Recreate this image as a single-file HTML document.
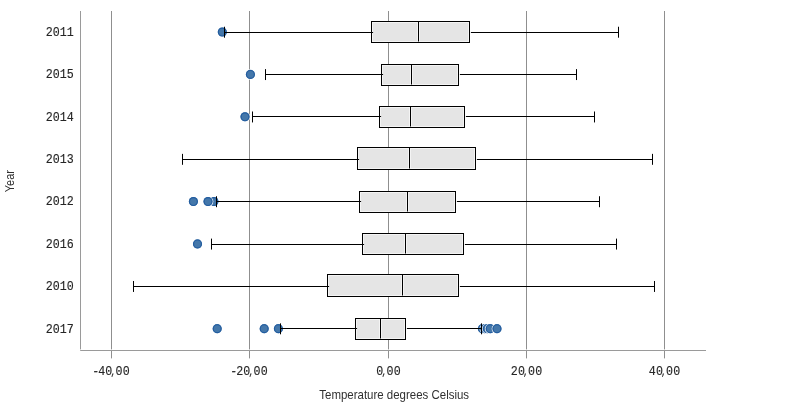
<!DOCTYPE html>
<html lang="en">
<head>
<meta charset="utf-8">
<title>Box plot - Temperature degrees Celsius by Year</title>
<style>
html,body{margin:0;padding:0;background:#ffffff;}
body{width:800px;height:407px;overflow:hidden;}
svg{display:block;will-change:transform;}
.num{font-family:"Liberation Mono","DejaVu Sans Mono",monospace;font-size:13.7px;fill:#262626;stroke:#262626;stroke-width:0.15px;}
.ttl{font-family:"Liberation Sans",Arial,sans-serif;font-size:12.6px;fill:#303030;}
.cm{font-size:10.5px;}
.grid{stroke:#8f8f8f;stroke-width:1;}
.axis{stroke:#9a9a9a;stroke-width:1;}
.box{fill:#e5e5e5;stroke:#000000;stroke-width:1;}
.halo{fill:none;stroke:#f4f4f4;stroke-width:1;}
.wh{stroke:#000000;stroke-width:1;fill:none;}
.ring{fill:#ffffff;fill-opacity:0.9;}
.dot{fill:#4477aa;}
.rim{fill:none;stroke:#1f5a9f;stroke-width:1.15;stroke-opacity:0.9;}
</style>
</head>
<body>
<svg width="800" height="407" viewBox="0 0 800 407">
<rect x="0" y="0" width="800" height="407" fill="#ffffff"/>

<g class="grid">
<line x1="111.5" y1="11.0" x2="111.5" y2="349.4"/><line x1="111.5" y1="351" x2="111.5" y2="358.4"/>
<line x1="249.5" y1="11.0" x2="249.5" y2="349.4"/><line x1="249.5" y1="351" x2="249.5" y2="358.4"/>
<line x1="388.5" y1="11.0" x2="388.5" y2="349.4"/><line x1="388.5" y1="351" x2="388.5" y2="358.4"/>
<line x1="526.5" y1="11.0" x2="526.5" y2="349.4"/><line x1="526.5" y1="351" x2="526.5" y2="358.4"/>
<line x1="664.5" y1="11.0" x2="664.5" y2="349.4"/><line x1="664.5" y1="351" x2="664.5" y2="358.4"/>
</g>
<g class="axis">
<line x1="80.5" y1="11.0" x2="80.5" y2="349.4"/>
<line x1="80.2" y1="350.5" x2="706" y2="350.5"/>
</g>
<g><!-- 2011 -->
<circle class="ring" cx="222.3" cy="32.04" r="5.35"/><circle class="dot" cx="222.3" cy="32.04" r="4.55"/><circle class="rim" cx="222.3" cy="32.04" r="3.95"/>
<rect class="box" x="371.5" y="21.5" width="98.0" height="21.0"/>
<rect class="halo" x="372.5" y="22.5" width="96.0" height="19.0"/>
<path class="halo" d="M417.5 22.5V41.5M419.5 22.5V41.5"/>
<line class="wh" x1="418.5" y1="21.5" x2="418.5" y2="41.5"/>
<path class="wh" d="M224.5 26.74V37.69M224.5 32.5H373.1M470.9 32.5H618.5M618.5 26.74V37.69"/>
<text class="num" transform="translate(73.7 35.89) scale(0.85 1)" text-anchor="end">2011</text>
</g>
<g><!-- 2015 -->
<circle class="ring" cx="250.4" cy="74.41" r="5.35"/><circle class="dot" cx="250.4" cy="74.41" r="4.55"/><circle class="rim" cx="250.4" cy="74.41" r="3.95"/>
<rect class="box" x="381.5" y="64.5" width="77.0" height="21.0"/>
<rect class="halo" x="382.5" y="65.5" width="75.0" height="19.0"/>
<path class="halo" d="M410.5 65.5V84.5M412.5 65.5V84.5"/>
<line class="wh" x1="411.5" y1="64.5" x2="411.5" y2="84.5"/>
<path class="wh" d="M265.5 69.11V80.06M265.5 74.5H383.1M459.9 74.5H576.5M576.5 69.11V80.06"/>
<text class="num" transform="translate(73.7 78.26) scale(0.85 1)" text-anchor="end">2015</text>
</g>
<g><!-- 2014 -->
<circle class="ring" cx="245.0" cy="116.79" r="5.35"/><circle class="dot" cx="245.0" cy="116.79" r="4.55"/><circle class="rim" cx="245.0" cy="116.79" r="3.95"/>
<rect class="box" x="379.5" y="106.5" width="85.0" height="21.0"/>
<rect class="halo" x="380.5" y="107.5" width="83.0" height="19.0"/>
<path class="halo" d="M409.5 107.5V126.5M411.5 107.5V126.5"/>
<line class="wh" x1="410.5" y1="106.5" x2="410.5" y2="126.5"/>
<path class="wh" d="M252.5 111.49V122.44M252.5 116.5H381.1M465.9 116.5H594.5M594.5 111.49V122.44"/>
<text class="num" transform="translate(73.7 120.64) scale(0.85 1)" text-anchor="end">2014</text>
</g>
<g><!-- 2013 -->
<rect class="box" x="357.5" y="147.5" width="118.0" height="22.0"/>
<rect class="halo" x="358.5" y="148.5" width="116.0" height="20.0"/>
<path class="halo" d="M408.5 148.5V168.5M410.5 148.5V168.5"/>
<line class="wh" x1="409.5" y1="147.5" x2="409.5" y2="168.5"/>
<path class="wh" d="M182.5 153.86V164.81M182.5 159.5H359.1M476.9 159.5H652.5M652.5 153.86V164.81"/>
<text class="num" transform="translate(73.7 163.01) scale(0.85 1)" text-anchor="end">2013</text>
</g>
<g><!-- 2012 -->
<circle class="ring" cx="213.9" cy="201.54" r="5.35"/><circle class="dot" cx="213.9" cy="201.54" r="4.55"/><circle class="rim" cx="213.9" cy="201.54" r="3.95"/>
<circle class="ring" cx="208.0" cy="201.54" r="5.35"/><circle class="dot" cx="208.0" cy="201.54" r="4.55"/><circle class="rim" cx="208.0" cy="201.54" r="3.95"/>
<circle class="ring" cx="193.4" cy="201.54" r="5.35"/><circle class="dot" cx="193.4" cy="201.54" r="4.55"/><circle class="rim" cx="193.4" cy="201.54" r="3.95"/>
<rect class="box" x="359.5" y="191.5" width="96.0" height="21.0"/>
<rect class="halo" x="360.5" y="192.5" width="94.0" height="19.0"/>
<path class="halo" d="M406.5 192.5V211.5M408.5 192.5V211.5"/>
<line class="wh" x1="407.5" y1="191.5" x2="407.5" y2="211.5"/>
<path class="wh" d="M216.5 196.24V207.19M216.5 201.5H361.1M456.9 201.5H599.5M599.5 196.24V207.19"/>
<text class="num" transform="translate(73.7 205.39) scale(0.85 1)" text-anchor="end">2012</text>
</g>
<g><!-- 2016 -->
<circle class="ring" cx="197.5" cy="243.91" r="5.35"/><circle class="dot" cx="197.5" cy="243.91" r="4.55"/><circle class="rim" cx="197.5" cy="243.91" r="3.95"/>
<rect class="box" x="362.5" y="233.5" width="101.0" height="21.0"/>
<rect class="halo" x="363.5" y="234.5" width="99.0" height="19.0"/>
<path class="halo" d="M404.5 234.5V253.5M406.5 234.5V253.5"/>
<line class="wh" x1="405.5" y1="233.5" x2="405.5" y2="253.5"/>
<path class="wh" d="M211.5 238.61V249.56M211.5 244.5H364.1M464.9 244.5H616.5M616.5 238.61V249.56"/>
<text class="num" transform="translate(73.7 247.76) scale(0.85 1)" text-anchor="end">2016</text>
</g>
<g><!-- 2010 -->
<rect class="box" x="327.5" y="274.5" width="131.0" height="22.0"/>
<rect class="halo" x="328.5" y="275.5" width="129.0" height="20.0"/>
<path class="halo" d="M401.5 275.5V295.5M403.5 275.5V295.5"/>
<line class="wh" x1="402.5" y1="274.5" x2="402.5" y2="295.5"/>
<path class="wh" d="M133.5 280.99V291.94M133.5 286.5H329.1M459.9 286.5H654.5M654.5 280.99V291.94"/>
<text class="num" transform="translate(73.7 290.14) scale(0.85 1)" text-anchor="end">2010</text>
</g>
<g><!-- 2017 -->
<circle class="ring" cx="278.4" cy="328.66" r="5.35"/><circle class="dot" cx="278.4" cy="328.66" r="4.55"/><circle class="rim" cx="278.4" cy="328.66" r="3.95"/>
<circle class="ring" cx="264.2" cy="328.66" r="5.35"/><circle class="dot" cx="264.2" cy="328.66" r="4.55"/><circle class="rim" cx="264.2" cy="328.66" r="3.95"/>
<circle class="ring" cx="217.2" cy="328.66" r="5.35"/><circle class="dot" cx="217.2" cy="328.66" r="4.55"/><circle class="rim" cx="217.2" cy="328.66" r="3.95"/>
<circle class="ring" cx="482.4" cy="328.66" r="5.35"/><circle class="dot" cx="482.4" cy="328.66" r="4.55"/><circle class="rim" cx="482.4" cy="328.66" r="3.95"/>
<circle class="ring" cx="484.9" cy="328.66" r="5.35"/><circle class="dot" cx="484.9" cy="328.66" r="4.55"/><circle class="rim" cx="484.9" cy="328.66" r="3.95"/>
<circle class="ring" cx="487.3" cy="328.66" r="5.35"/><circle class="dot" cx="487.3" cy="328.66" r="4.55"/><circle class="rim" cx="487.3" cy="328.66" r="3.95"/>
<circle class="ring" cx="490.2" cy="328.66" r="5.35"/><circle class="dot" cx="490.2" cy="328.66" r="4.55"/><circle class="rim" cx="490.2" cy="328.66" r="3.95"/>
<circle class="ring" cx="497.0" cy="328.66" r="5.35"/><circle class="dot" cx="497.0" cy="328.66" r="4.55"/><circle class="rim" cx="497.0" cy="328.66" r="3.95"/>
<rect class="box" x="355.5" y="318.5" width="50.0" height="21.0"/>
<rect class="halo" x="356.5" y="319.5" width="48.0" height="19.0"/>
<path class="halo" d="M379.5 319.5V338.5M381.5 319.5V338.5"/>
<line class="wh" x1="380.5" y1="318.5" x2="380.5" y2="338.5"/>
<path class="wh" d="M280.5 323.36V334.31M280.5 328.5H357.1M406.9 328.5H481.5M481.5 323.36V334.31"/>
<text class="num" transform="translate(73.7 332.51) scale(0.85 1)" text-anchor="end">2017</text>
</g>
<text class="num" transform="translate(111.5 374.9) scale(0.85 1)" x="-22.73 -15.65 -7.25 -1.23 4.80 13.20" y="0">-40<tspan class="cm">,</tspan>00</text>
<text class="num" transform="translate(249.5 374.9) scale(0.85 1)" x="-22.73 -15.65 -7.25 -1.23 4.80 13.20" y="0">-20<tspan class="cm">,</tspan>00</text>
<text class="num" transform="translate(388.5 374.9) scale(0.85 1)" x="-14.33 -8.31 -2.29 6.11" y="0">0<tspan class="cm">,</tspan>00</text>
<text class="num" transform="translate(526.5 374.9) scale(0.85 1)" x="-18.53 -10.13 -4.11 1.91 10.31" y="0">20<tspan class="cm">,</tspan>00</text>
<text class="num" transform="translate(664.5 374.9) scale(0.85 1)" x="-18.53 -10.13 -4.11 1.91 10.31" y="0">40<tspan class="cm">,</tspan>00</text>
<text class="ttl" x="319.3" y="398.7" textLength="149.8" lengthAdjust="spacingAndGlyphs">Temperature degrees Celsius</text>
<text class="ttl" transform="translate(13.6 192.2) rotate(-90)" textLength="22.2" lengthAdjust="spacingAndGlyphs">Year</text>
</svg>
</body>
</html>
